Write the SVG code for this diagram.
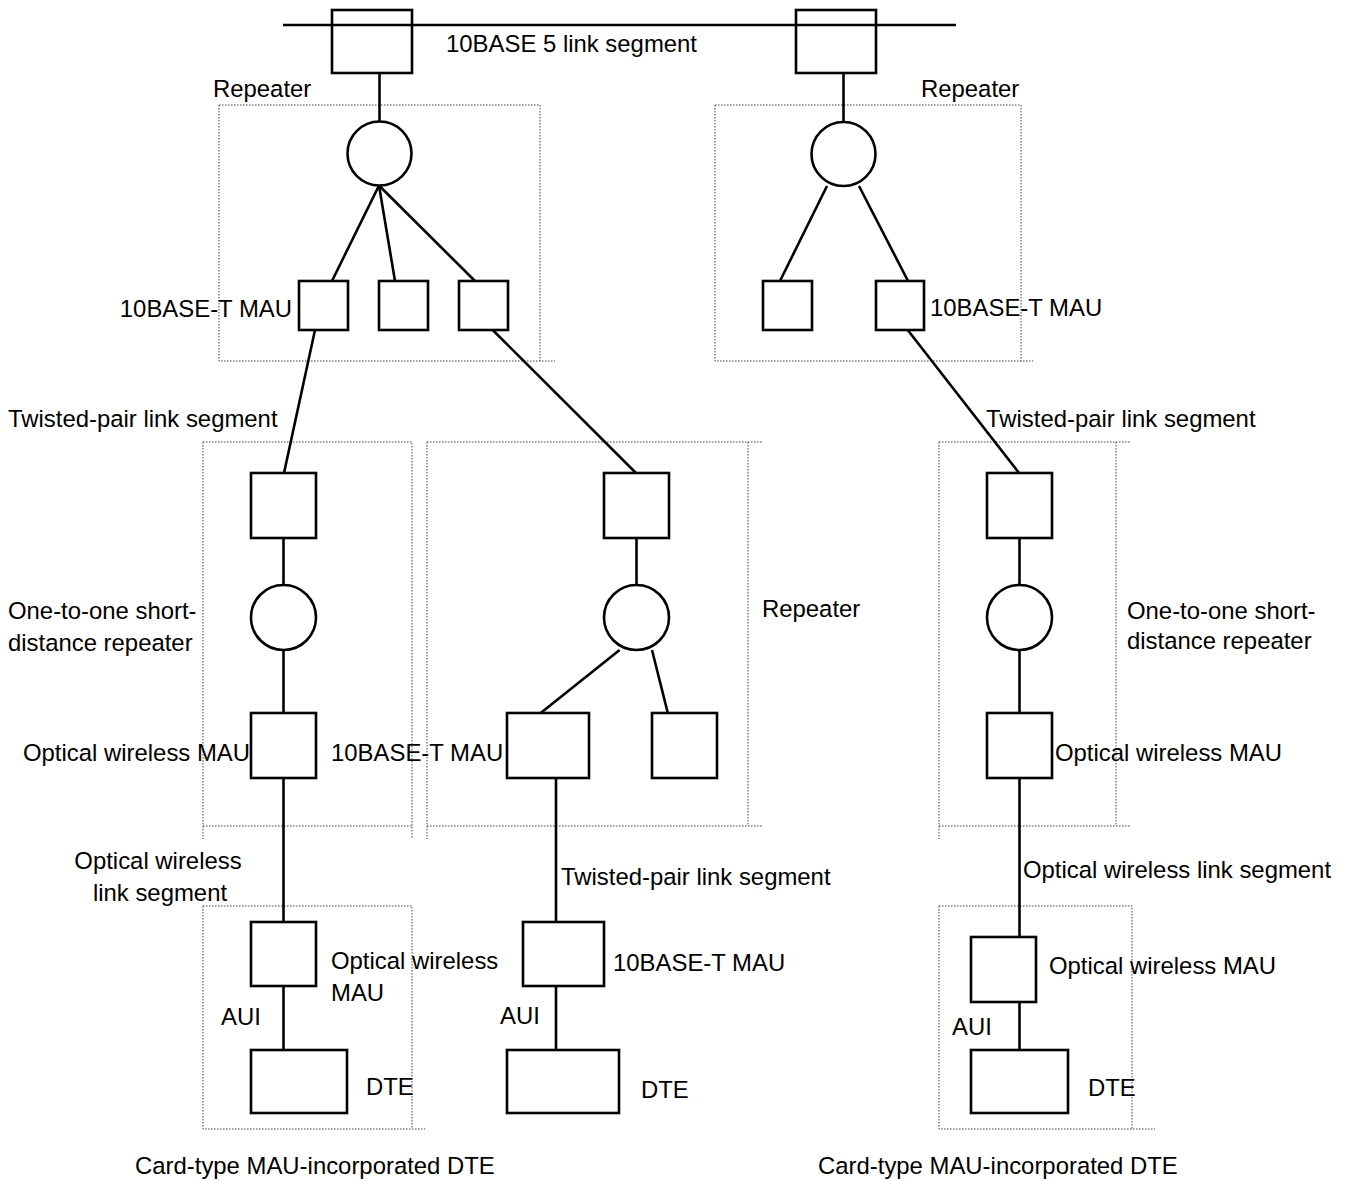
<svg xmlns="http://www.w3.org/2000/svg" width="1353" height="1181" viewBox="0 0 1353 1181">
<style>
.n{fill:#fff;stroke:#000;stroke-width:2.6}
.c{stroke:#000;stroke-width:2.6;fill:none}
.d{stroke:#444;stroke-width:1;stroke-dasharray:1.5 1.5;fill:none}
text{font-family:"Liberation Sans",Arial,sans-serif;font-size:23.9px;fill:#000}
</style>
<rect width="1353" height="1181" fill="#fff"/>
<g id="enclosures">
<path class="d" d="M219,105H540V361M219,105V361H555"/>
<path class="d" d="M715,105H1021V361M715,105V361H1033"/>
<path class="d" d="M203,442H412V839M203,442V839M203,826H412"/>
<path class="d" d="M427,442H762M748,442V826M427,442V839M427,826H762"/>
<path class="d" d="M939,442H1130M1116,442V826M939,442V839M939,826H1130"/>
<path class="d" d="M203,906H412V1129M203,906V1129H425"/>
<path class="d" d="M939,906H1132V1129M939,906V1129H1155"/>
</g>
<g id="connectors">
<line class="c" x1="283" y1="25" x2="956" y2="25"/>
<line class="c" x1="379.5" y1="73" x2="379.5" y2="122"/>
<line class="c" x1="843.5" y1="73" x2="843.5" y2="122"/>
<line class="c" x1="379" y1="185.5" x2="332" y2="281"/>
<line class="c" x1="379" y1="185.5" x2="395" y2="281"/>
<line class="c" x1="379" y1="185.5" x2="475" y2="281"/>
<line class="c" x1="827" y1="186" x2="780" y2="281"/>
<line class="c" x1="859" y1="186" x2="908" y2="281"/>
<line class="c" x1="315" y1="330" x2="284" y2="473"/>
<line class="c" x1="492.7" y1="330" x2="636" y2="473"/>
<line class="c" x1="907.7" y1="330" x2="1019" y2="473"/>
<line class="c" x1="283.5" y1="538" x2="283.5" y2="585"/>
<line class="c" x1="283.5" y1="650" x2="283.5" y2="713"/>
<line class="c" x1="283.5" y1="778" x2="283.5" y2="922"/>
<line class="c" x1="283.5" y1="986" x2="283.5" y2="1050"/>
<line class="c" x1="636.5" y1="538" x2="636.5" y2="585"/>
<line class="c" x1="619.6" y1="650" x2="540.7" y2="713"/>
<line class="c" x1="652" y1="650" x2="667.8" y2="713"/>
<line class="c" x1="556" y1="778" x2="556" y2="922"/>
<line class="c" x1="556" y1="986" x2="556" y2="1050"/>
<line class="c" x1="1019.5" y1="538" x2="1019.5" y2="585"/>
<line class="c" x1="1019.5" y1="650" x2="1019.5" y2="713"/>
<line class="c" x1="1019.5" y1="778" x2="1019.5" y2="937"/>
<line class="c" x1="1019.5" y1="1002" x2="1019.5" y2="1050"/>
</g>
<g id="bus-tap-left"><rect class="n" x="332" y="10" width="80" height="63" fill-opacity="0"/></g>
<g id="bus-tap-right"><rect class="n" x="796" y="10" width="80" height="63" fill-opacity="0"/></g>
<g id="repeater-tl"><circle class="n" cx="379.5" cy="153.5" r="32"/></g>
<g id="mau-tl1"><rect class="n" x="299" y="281" width="49" height="49"/></g>
<g id="mau-tl2"><rect class="n" x="379" y="281" width="49" height="49"/></g>
<g id="mau-tl3"><rect class="n" x="459" y="281" width="49" height="49"/></g>
<g id="repeater-tr"><circle class="n" cx="843.5" cy="154" r="32"/></g>
<g id="mau-tr1"><rect class="n" x="763" y="281" width="49" height="49"/></g>
<g id="mau-tr2"><rect class="n" x="876" y="281" width="48" height="49"/></g>
<g id="ml-mau-top"><rect class="n" x="251" y="473" width="65" height="65"/></g>
<g id="ml-repeater"><circle class="n" cx="283.5" cy="617.5" r="32.5"/></g>
<g id="ml-mau-optical"><rect class="n" x="251" y="713" width="65" height="65"/></g>
<g id="ll-mau-optical"><rect class="n" x="251" y="922" width="65" height="64"/></g>
<g id="ll-dte"><rect class="n" x="251" y="1050" width="96" height="63"/></g>
<g id="mc-mau-top"><rect class="n" x="604" y="473" width="65" height="65"/></g>
<g id="mc-repeater"><circle class="n" cx="636.5" cy="617.5" r="32.5"/></g>
<g id="mc-mau-10bt"><rect class="n" x="507" y="713" width="82" height="65"/></g>
<g id="mc-mau-2"><rect class="n" x="652" y="713" width="65" height="65"/></g>
<g id="lc-mau-10bt"><rect class="n" x="523" y="922" width="81" height="64"/></g>
<g id="lc-dte"><rect class="n" x="507" y="1050" width="112" height="63"/></g>
<g id="mr-mau-top"><rect class="n" x="987" y="473" width="65" height="65"/></g>
<g id="mr-repeater"><circle class="n" cx="1019.5" cy="617.5" r="32.5"/></g>
<g id="mr-mau-optical"><rect class="n" x="987" y="713" width="65" height="65"/></g>
<g id="lr-mau-optical"><rect class="n" x="971" y="937" width="65" height="65"/></g>
<g id="lr-dte"><rect class="n" x="971" y="1050" width="97" height="63"/></g>
<g id="labels">
<text x="446" y="52">10BASE 5 link segment</text>
<text x="213" y="97">Repeater</text>
<text x="921" y="97">Repeater</text>
<text x="292" y="317" text-anchor="end">10BASE-T MAU</text>
<text x="930" y="316">10BASE-T MAU</text>
<text x="8" y="427">Twisted-pair link segment</text>
<text x="986" y="427">Twisted-pair link segment</text>
<text x="8" y="619">One-to-one short-</text>
<text x="8" y="651">distance repeater</text>
<text x="762" y="617">Repeater</text>
<text x="1127" y="619">One-to-one short-</text>
<text x="1127" y="649">distance repeater</text>
<text x="23" y="761">Optical wireless MAU</text>
<text x="331" y="761">10BASE-T MAU</text>
<text x="1055" y="761">Optical wireless MAU</text>
<text x="158" y="869" text-anchor="middle">Optical wireless</text>
<text x="160" y="901" text-anchor="middle">link segment</text>
<text x="561" y="885">Twisted-pair link segment</text>
<text x="1023" y="878">Optical wireless link segment</text>
<text x="331" y="969">Optical wireless</text>
<text x="331" y="1001">MAU</text>
<text x="613" y="971">10BASE-T MAU</text>
<text x="1049" y="974">Optical wireless MAU</text>
<text x="221" y="1025">AUI</text>
<text x="500" y="1024">AUI</text>
<text x="952" y="1035">AUI</text>
<text x="366" y="1095">DTE</text>
<text x="641" y="1098">DTE</text>
<text x="1088" y="1096">DTE</text>
<text x="135" y="1174">Card-type MAU-incorporated DTE</text>
<text x="818" y="1174">Card-type MAU-incorporated DTE</text>
</g>
</svg>
